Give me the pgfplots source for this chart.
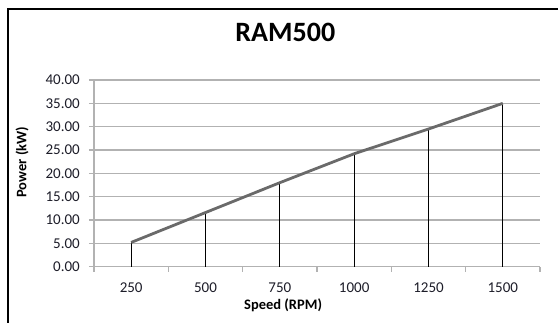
\documentclass[border=0pt]{standalone}
\usepackage{fontspec}
\setmainfont{Carlito}
\usepackage{pgfplots}
\pgfplotsset{compat=1.18}
\definecolor{gridgray}{HTML}{B2B2B2}
\definecolor{linegray}{HTML}{6A6A6A}
\definecolor{txt}{HTML}{1C1C28}
\begin{document}
\begin{tikzpicture}[x=1pt,y=1pt]
\path[use as bounding box] (0,0) rectangle (558,323);
\draw[line width=1.4pt,black] (8,0) -- (8,314) -- (558,314);
\begin{axis}[
  at={(94pt,56.3pt)}, anchor=south west,
  scale only axis, width=446pt, height=186.7pt,
  xmin=-0.5, xmax=5.5, ymin=0, ymax=40,
  xtick={0,1,2,3,4,5},
  xticklabels={250,500,750,1000,1250,1500},
  minor xtick={-0.5,0.5,1.5,2.5,3.5,4.5,5.5},
  ytick={0,5,...,40},
  axis x line*=bottom, axis y line*=left,
  axis line style={gridgray, line width=1.2pt, -},
  x axis line style={-}, y axis line style={-},
  tick align=outside,
  major tick length=5pt, minor tick length=5pt,
  every major x tick/.append style={draw=none},
  every minor x tick/.append style={draw=gridgray, line width=1.2pt},
  ytick style={draw=gridgray, line width=1.2pt},
  ymajorgrids, grid style={gridgray, line width=1.2pt},
  /pgf/number format/assume math mode=true,
  yticklabel={\pgfmathprintnumber[fixed,fixed zerofill,precision=2]{\tick}},
  ticklabel style={font=\fontsize{15}{17}\selectfont, text=txt},
  yticklabel style={inner sep=0pt, anchor=east, xshift=-9pt},
  xticklabel style={inner sep=0pt, anchor=center, yshift=-16pt},
  title={\textbf{RAM500}},
  title style={at={(axis description cs:0.429,1.222)}, anchor=center, font=\fontsize{28}{30}\selectfont, inner sep=0pt, text=black},
  xlabel={\textbf{Speed (RPM)}},
  xlabel style={at={(axis description cs:0.424,-0.205)}, anchor=center, font=\fontsize{14.5}{16}\selectfont, inner sep=0pt, text=black},
  ylabel={\textbf{Power (kW)}},
  ylabel style={at={(axis description cs:-0.161,0.56)}, anchor=center, rotate=0, font=\fontsize{14.5}{16}\selectfont, inner sep=0pt, text=black},
  clip=false,
]
\addplot[ycomb, black, line width=0.9pt, mark=none] coordinates {
  (0,5.2) (1,11.6) (2,18.0) (3,24.2) (4,29.5) (5,35.0)
};
\addplot[linegray, line width=2.8pt, mark=none] coordinates {
  (0,5.2) (1,11.6) (2,18.0) (3,24.2) (4,29.5) (5,35.0)
};
\end{axis}
\end{tikzpicture}
\end{document}
